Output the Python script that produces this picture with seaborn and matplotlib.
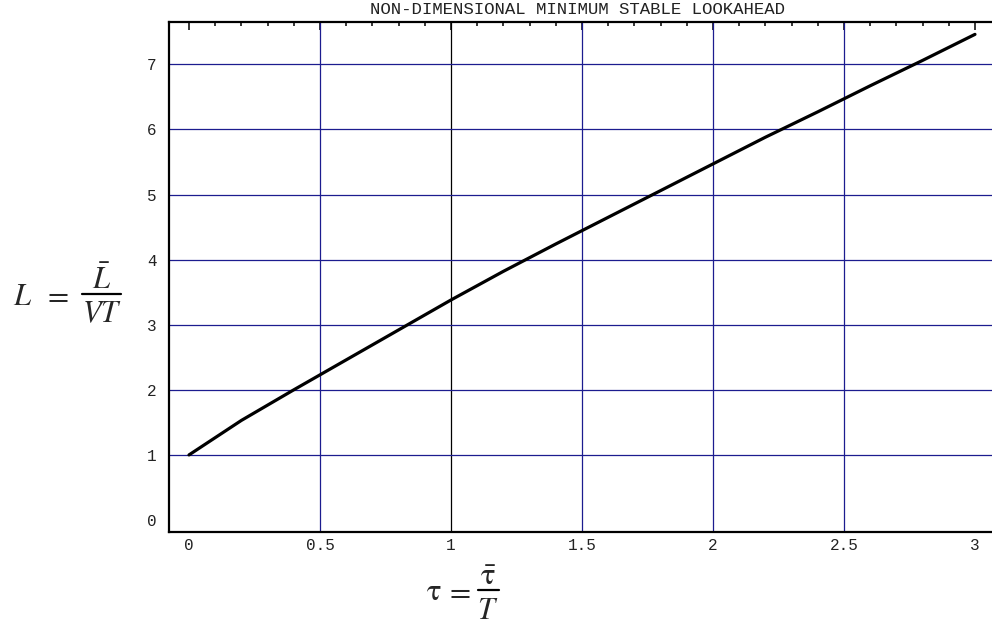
import matplotlib
matplotlib.use("Agg")
import matplotlib.pyplot as plt
from matplotlib.lines import Line2D
from matplotlib.ticker import MultipleLocator, FixedFormatter, FixedLocator
import pandas as pd
import seaborn as sns

# Non-dimensional delay tau and minimum stable lookahead L
tau = [0.0, 0.2, 0.4, 0.6, 0.8, 1.0, 1.2, 1.4, 1.6, 1.8, 2.0, 2.2, 2.4, 2.6, 2.8, 3.0]
lookahead = [1.0, 1.53, 2.0, 2.46, 2.92, 3.38, 3.82, 4.24, 4.65, 5.06, 5.47, 5.88, 6.27, 6.67, 7.06, 7.46]

x_ticks = [0, 0.5, 1, 1.5, 2, 2.5, 3]
x_tick_labels = ["0", "0.5", "1", "1.5", "2", "2.5", "3"]
x_grid = [0.5, 1, 1.5, 2, 2.5]
y_ticks = [0, 1, 2, 3, 4, 5, 6, 7]
y_tick_labels = ["0", "1", "2", "3", "4", "5", "6", "7"]
y_grid = [1, 2, 3, 4, 5, 6, 7]

title = "NON-DIMENSIONAL MINIMUM STABLE LOOKAHEAD"

sns.set_style("white")
plt.rcParams["mathtext.fontset"] = "stix"
mono = "Liberation Mono"

df = pd.DataFrame({"tau": tau, "L": lookahead})

W, H = 992, 641
fig = plt.figure(figsize=(W / 100, H / 100), dpi=100)
ax = fig.add_axes([169 / W, 109 / H, 1 - 169 / W, (532 - 22) / H])

navy = "#1c1c8f"
for xv in x_grid:
    ax.axvline(xv, color=("black" if xv == 1 else navy), lw=0.9, zorder=1)
for yv in y_grid:
    ax.axhline(yv, color=navy, lw=0.9, zorder=1)

sns.lineplot(data=df, x="tau", y="L", ax=ax, color="black", lw=2.3, zorder=3)

ax.set_xlim(-0.0763, 3.065)
ax.set_ylim(-0.184, 7.65)

ax.xaxis.set_major_locator(FixedLocator(x_ticks))
ax.xaxis.set_major_formatter(FixedFormatter(x_tick_labels))
ax.xaxis.set_minor_locator(MultipleLocator(0.1))
ax.yaxis.set_major_locator(FixedLocator(y_ticks))
ax.yaxis.set_major_formatter(FixedFormatter(y_tick_labels))
ax.yaxis.set_minor_locator(MultipleLocator(0.2))

ax.tick_params(which="both", direction="in", top=True, right=False,
               color="black", width=1.1)
ax.tick_params(which="major", length=5.5)
ax.tick_params(which="minor", length=3)
ax.tick_params(axis="x", which="major", pad=4)
ax.tick_params(axis="y", which="major", pad=9)
for lbl in ax.get_xticklabels() + ax.get_yticklabels():
    lbl.set_fontfamily(mono)
    lbl.set_fontsize(11.5)
    lbl.set_color("#222222")

for side in ["left", "bottom", "top"]:
    ax.spines[side].set_linewidth(1.6)
    ax.spines[side].set_color("black")
ax.spines["right"].set_visible(False)

ax.set_xlabel("")
ax.set_ylabel("")

fig.text(578 / W, 1 - 10 / H, title, family=mono, fontsize=12.5,
         ha="center", va="center", color="#222222")


def px(x, y):
    return x / W, 1 - y / H


def frac_bar(x0, x1, y):
    (fx0, fy), (fx1, _) = px(x0, y), px(x1, y)
    fig.add_artist(Line2D([fx0, fx1], [fy, fy], color="black", lw=1.6,
                          transform=fig.transFigure))


# Vertical-axis label:  L = L-bar / (V T)
fs = 22
fig.text(*px(13, 305), r"$L$", fontsize=fs, ha="left", va="baseline")
fig.text(*px(56, 295), r"$=$", fontsize=fs, ha="center", va="center")
fig.text(*px(102, 289), r"$\bar{L}$", fontsize=fs, ha="center", va="baseline")
frac_bar(82, 121, 294)
fig.text(*px(102, 322), r"$VT$", fontsize=fs, ha="center", va="baseline")

# Horizontal-axis label:  tau = tau-bar / T
fig.text(*px(434, 600), r"$\mathrm{\tau}$", fontsize=fs, ha="center", va="baseline")
fig.text(*px(458, 591), r"$=$", fontsize=fs, ha="center", va="center")
fig.text(*px(488, 585), r"$\bar{\mathrm{\tau}}$", fontsize=fs, ha="center", va="baseline")
frac_bar(478, 499, 590)
fig.text(*px(488, 619), r"$T$", fontsize=fs, ha="center", va="baseline")

fig.savefig("out.png", dpi=100)
